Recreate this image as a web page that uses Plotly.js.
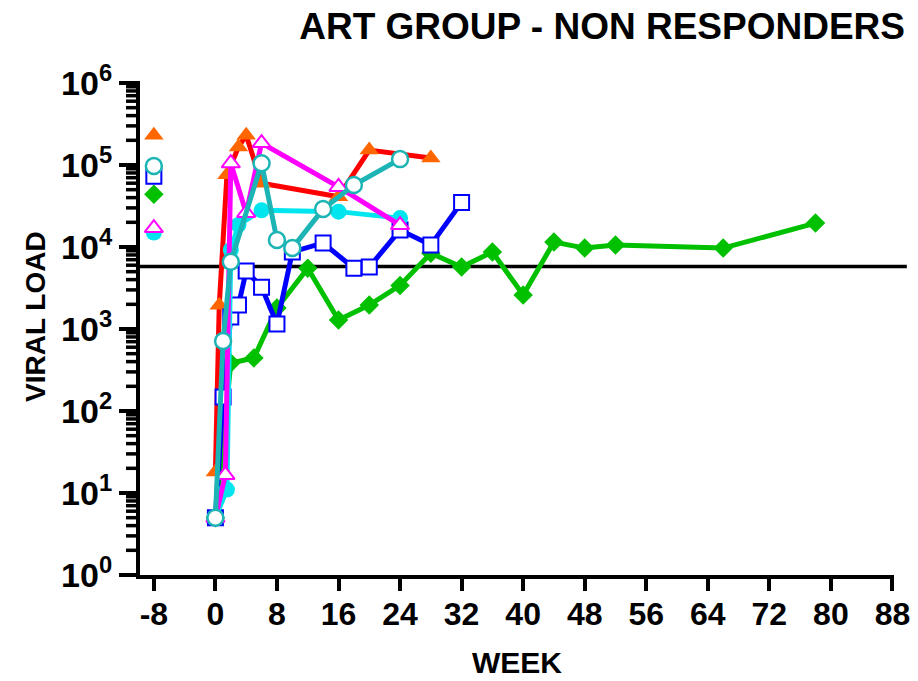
<!DOCTYPE html>
<html>
<head>
<meta charset="utf-8">
<script src="https://cdn.plot.ly/plotly-3.0.1.min.js"></script>
<style>
  html, body { margin: 0; padding: 0; background: #fff; }
  #chart { width: 918px; height: 681px; }
</style>
</head>
<body>
<div id="chart"></div>
<script>
// Viral load per patient, weeks after ART start; pre-treatment value shown at week -8
const preWeek = -8;

const redWeeks = [0, 0.5, 1.5, 3, 4, 6, 16, 20, 28];
const redLoad = [18, 1950, 76000, 166000, 230000, 60000, 41000, 152000, 122000];
const redPre = 230000;

const greenWeeks = [0, 2, 5, 8, 12, 16, 20, 24, 28, 32, 36, 40, 44, 48, 52, 66, 78];
const greenLoad = [5, 385, 443, 1800, 5500, 1290, 1960, 3400, 8400, 5700, 8700, 2600, 11500, 9700, 10600, 9700, 19600];
const greenPre = 44000;

const blueWeeks = [0, 1, 2, 3, 4, 6, 8, 10, 14, 18, 20, 24, 28, 32];
const blueLoad = [5, 148, 1400, 1960, 5100, 3240, 1150, 8700, 11200, 5500, 5700, 16100, 10600, 35000];
const bluePre = 73000;

const cyanWeeks = [0, 1.5, 2, 3, 6, 16, 24];
const cyanLoad = [5, 11, 9200, 18600, 28000, 27000, 22500];
const cyanPre = 15000;

const magentaWeeks = [0, 1.3, 2, 4, 6, 16, 24];
const magentaLoad = [5, 16.6, 105000, 26000, 185000, 54000, 18500];
const magentaPre = 17000;

const tealWeeks = [0, 1, 2, 6, 8, 10, 14, 18, 24];
const tealLoad = [5, 714, 6600, 105000, 12200, 9700, 29000, 57000, 118000];
const tealPre = 97000;

const threshold = 5800;

const weekTicks = [-8, 0, 8, 16, 24, 32, 40, 48, 56, 64, 72, 80, 88];
const loadTicks = [1, 10, 100, 1000, 10000, 100000, 1000000];
const loadTickText = ['10<sup>0</sup>', '10<sup>1</sup>', '10<sup>2</sup>', '10<sup>3</sup>',
                      '10<sup>4</sup>', '10<sup>5</sup>', '10<sup>6</sup>'];
const LOG_MIN = 0, LOG_MAX = 6;

const FONT = 'Liberation Sans, Arial, Helvetica, sans-serif';
const PLOT_W = 754; // plot-area width in px, used to size tick marks in paper units

function series(weeks, load, pre, lineColor, marker) {
  return [
    {
      x: weeks, y: load, type: 'scatter', mode: 'lines+markers',
      line: { color: lineColor, width: 5 },
      marker: marker, cliponaxis: false, hoverinfo: 'x+y'
    },
    {
      x: [preWeek], y: [pre], type: 'scatter', mode: 'markers',
      marker: marker, cliponaxis: false, hoverinfo: 'x+y'
    }
  ];
}

const data = [].concat(
  series(redWeeks, redLoad, redPre, '#FF0000',
    { symbol: 'triangle-up', size: 17, color: '#FF6600', line: { width: 0 } }),
  series(greenWeeks, greenLoad, greenPre, '#00C000',
    { symbol: 'diamond', size: 15, color: '#00C000', line: { width: 0 } }),
  series(blueWeeks, blueLoad, bluePre, '#0000FF',
    { symbol: 'square', size: 15, color: '#FFFFFF', line: { color: '#0000FF', width: 2 } }),
  series(cyanWeeks, cyanLoad, cyanPre, '#00E5EE',
    { symbol: 'circle', size: 16, color: '#00E5EE', line: { width: 0 } }),
  series(magentaWeeks, magentaLoad, magentaPre, '#FF00FF',
    { symbol: 'triangle-up', size: 16, color: '#FFFFFF', line: { color: '#FF00FF', width: 2 } }),
  series(tealWeeks, tealLoad, tealPre, '#1CB4B4',
    { symbol: 'circle', size: 16, color: '#FFFFFF', line: { color: '#1CB4B4', width: 2.5 } })
);

// Ruler-style ticks on the log axis: long at each decade, short at 2..9
// (placed in paper units along the log range so they sit outside the plot area)
function axisFrac(v) { return (Math.log10(v) - LOG_MIN) / (LOG_MAX - LOG_MIN); }
const tickShapes = [];
for (let d = 1; d <= 1e6; d *= 10) {
  tickShapes.push({
    type: 'line', xref: 'paper', yref: 'paper',
    x0: -19 / PLOT_W, x1: 0, y0: axisFrac(d), y1: axisFrac(d),
    line: { color: '#000000', width: 4 }
  });
  if (d < 1e6) {
    for (let m = 2; m <= 9; m++) {
      tickShapes.push({
        type: 'line', xref: 'paper', yref: 'paper',
        x0: -14 / PLOT_W, x1: 0, y0: axisFrac(m * d), y1: axisFrac(m * d),
        line: { color: '#000000', width: 3.5 }
      });
    }
  }
}

const layout = {
  width: 918, height: 681,
  margin: { l: 140, r: 24, t: 83, b: 106 },
  paper_bgcolor: '#FFFFFF', plot_bgcolor: '#FFFFFF',
  showlegend: false,
  font: { family: FONT, color: '#000000', weight: 'bold' },
  title: {
    text: 'ART GROUP - NON RESPONDERS',
    font: { family: FONT, size: 37, color: '#000000', weight: 'bold' },
    xref: 'container', yref: 'container',
    x: 905 / 918, xanchor: 'right',
    y: 1 - 26 / 681, yanchor: 'middle'
  },
  xaxis: {
    range: [-9.8, 88.2],
    tickmode: 'array', tickvals: weekTicks, ticktext: weekTicks.map(String),
    ticks: 'outside', ticklen: 12, tickwidth: 4, tickcolor: '#000000',
    ticklabelstandoff: -4,
    showline: true, linecolor: '#000000', linewidth: 4,
    showgrid: false, zeroline: false,
    tickfont: { family: FONT, size: 32, color: '#000000', weight: 'bold' },
    title: {
      text: 'WEEK',
      font: { family: FONT, size: 30, color: '#000000', weight: 'bold' },
      standoff: 22
    }
  },
  yaxis: {
    type: 'log', range: [LOG_MIN, LOG_MAX],
    tickmode: 'array', tickvals: loadTicks, ticktext: loadTickText,
    ticks: 'outside', ticklen: 17, tickwidth: 4, tickcolor: '#000000',
    showline: true, linecolor: '#000000', linewidth: 4,
    showgrid: false, zeroline: false,
    tickfont: { family: FONT, size: 34, color: '#000000', weight: 'bold' }
  },
  shapes: [
    {
      type: 'line', xref: 'paper', yref: 'y',
      x0: 0, x1: 1.017, y0: threshold, y1: threshold,
      line: { color: '#000000', width: 3.5 }, layer: 'below'
    }
  ].concat(tickShapes),
  annotations: [
    {
      text: 'VIRAL LOAD', textangle: -90,
      xref: 'paper', yref: 'paper',
      x: (35 - 140) / PLOT_W, y: (575 - 317) / 492,
      xanchor: 'center', yanchor: 'middle', showarrow: false,
      font: { family: FONT, size: 28, color: '#000000', weight: 'bold' }
    }
  ]
};

Plotly.newPlot('chart', data, layout, { displayModeBar: false, staticPlot: true });
</script>
</body>
</html>
